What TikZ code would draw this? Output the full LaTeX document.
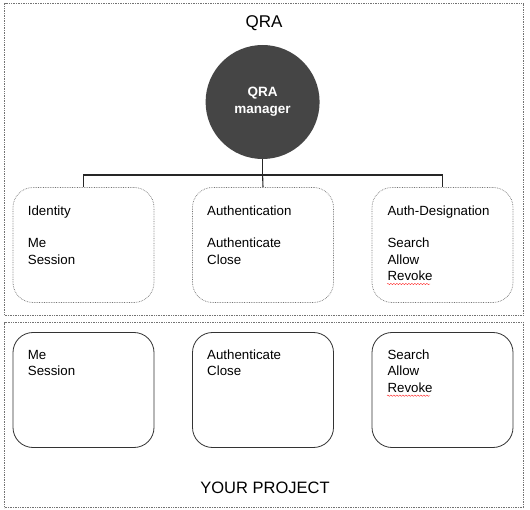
\documentclass[tikz,border=0pt]{standalone}
\usepackage{fontspec}
\setmainfont{Liberation Sans}
\usetikzlibrary{decorations.pathmorphing}
\begin{document}
\begin{tikzpicture}[x=1pt,y=-1pt,
  frame/.style={draw=black!55, densely dotted, line width=0.7pt},
  qbox/.style={draw=black!55, densely dotted, line width=0.7pt, rounded corners=20pt, minimum width=141pt, minimum height=115pt, inner sep=0},
  pbox/.style={draw=black!80, line width=0.8pt, rounded corners=20pt, minimum width=141pt, minimum height=115pt, inner sep=0},
  txt/.style={anchor=base west, inner sep=0, font=\fontsize{13.3}{16}\selectfont},
  title/.style={anchor=base, inner sep=0, font=\fontsize{17}{20}\selectfont},
  tree/.style={draw=black!85, line width=1.1pt},
  spell/.style={draw=red!80, line width=0.4pt, decorate, decoration={snake, amplitude=0.7pt, segment length=3pt}}
]
\useasboundingbox (0,0) rectangle (530,510);
\fill[white] (0,0) rectangle (530,510);

% outer frames
\node[frame, minimum width=519pt, minimum height=312pt, inner sep=0] (qraframe) at (264,159) {};
\node[frame, minimum width=519pt, minimum height=184.8pt, inner sep=0] (projframe) at (264,415.1) {};

\node[title] (qratitle) at (264,27.7) {QRA};
\node[title, font=\fontsize{16.5}{20}\selectfont] (projtitle) at (265,493.4) {YOUR PROJECT};

% manager
\node[circle, fill=black!73, minimum size=114pt, inner sep=0, text=white, align=center,
      font=\fontsize{13.5}{17}\selectfont\bfseries] (mgr) at (262.6,102) {QRA\\manager};

% QRA boxes
\node[qbox] (q1) at (83.5,245) {};
\node[qbox] (q2) at (263,245) {};
\node[qbox] (q3) at (442.5,245) {};

% project boxes
\node[pbox] (p1) at (83.5,390) {};
\node[pbox] (p2) at (263,390) {};
\node[pbox] (p3) at (442.5,390) {};

% tree
\coordinate (hub) at (262.6,175);
\draw[tree] (mgr.south) -- (hub);
\draw[tree] (q1.north) |- (hub) -| (q3.north);
\draw[tree] (hub) -- (q2.north);

% texts QRA boxes
\node[txt] (t11) at (27.7,215.7) {Identity};
\node[txt] (t12) at (27.7,247.8) {Me};
\node[txt] (t13) at (27.7,264.2) {Session};
\node[txt] (t21) at (207,215.7) {Authentication};
\node[txt] (t22) at (207,247.8) {Authenticate};
\node[txt] (t23) at (207,264.2) {Close};
\node[txt] (t31) at (387.3,215.7) {Auth-Designation};
\node[txt] (t32) at (387.3,247.8) {Search};
\node[txt] (t33) at (387.3,264.2) {Allow};
\node[txt] (t34) at (387.3,280.6) {Revoke};
\draw[spell] (387,284) -- (430,284);

% texts project boxes
\node[txt] (u12) at (27.7,359.5) {Me};
\node[txt] (u13) at (27.7,375.9) {Session};
\node[txt] (u22) at (207,359.5) {Authenticate};
\node[txt] (u23) at (207,375.9) {Close};
\node[txt] (u32) at (387.3,359.5) {Search};
\node[txt] (u33) at (387.3,375.9) {Allow};
\node[txt] (u34) at (387.3,392.3) {Revoke};
\draw[spell] (387,395.7) -- (430,395.7);
\end{tikzpicture}
\end{document}
